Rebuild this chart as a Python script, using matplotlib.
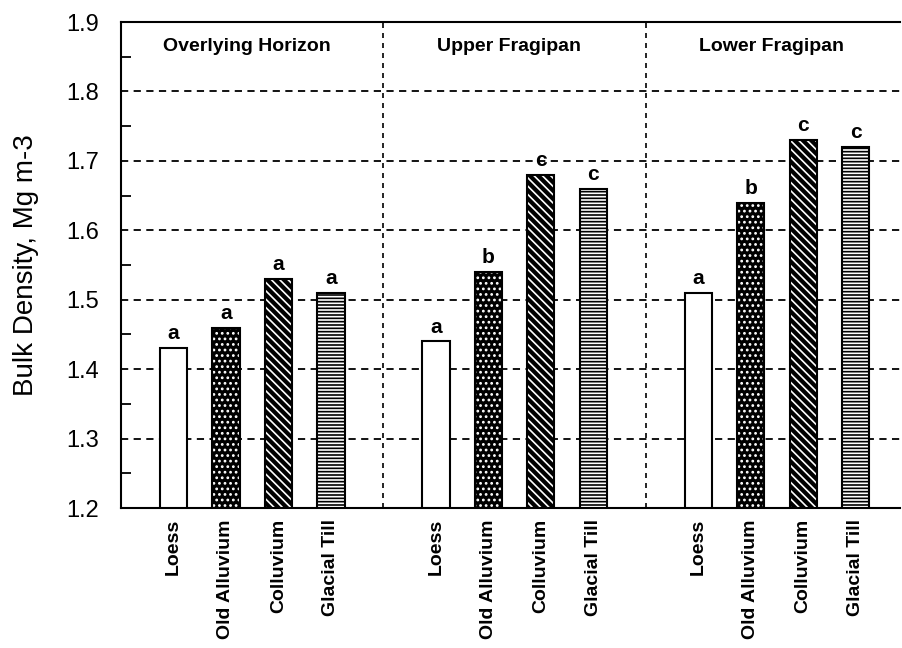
import numpy as np
import matplotlib.pyplot as plt
from matplotlib.ticker import MultipleLocator

plt.rcParams['font.family'] = ['Liberation Sans', 'DejaVu Sans']
plt.rcParams['hatch.linewidth'] = 1.2

horizons = ["Overlying Horizon", "Upper Fragipan", "Lower Fragipan"]
materials = ["Loess", "Old Alluvium", "Colluvium", "Glacial Till"]
density = [
    [1.43, 1.46, 1.53, 1.51],
    [1.44, 1.54, 1.68, 1.66],
    [1.51, 1.64, 1.73, 1.72],
]
letters = [
    ["a", "a", "a", "a"],
    ["a", "b", "c", "c"],
    ["a", "b", "c", "c"],
]

# fill, hatch, hatch colour per material
styles = [
    ("white", None, "black"),
    ("black", "...", "white"),
    ("black", "\\\\\\\\", "white"),
    ("white", "-----", "black"),
]

fig = plt.figure(figsize=(9.03, 6.48), dpi=100)
ax = fig.add_axes([0.134, 0.216, 0.863, 0.750])

base = 1.2
width = 0.52
xpos = []
xlab = []
for g in range(3):
    for m in range(4):
        x = g * 5 + m
        v = density[g][m]
        fc, hatch, hc = styles[m]
        ax.bar(x, v - base, width, bottom=base, color=fc, edgecolor=hc,
               hatch=hatch, linewidth=0, zorder=3)
        ax.bar(x, v - base, width, bottom=base, fill=False, edgecolor="black",
               linewidth=1.5, zorder=4)
        ax.text(x, v + 0.007, letters[g][m], ha="center", va="bottom",
                fontsize=15, fontweight="bold", zorder=5)
        xpos.append(x)
        xlab.append(materials[m])
    ax.text(g * 5 + 1.4, 1.865, horizons[g], ha="center", va="center",
            fontsize=14, fontweight="bold")

for d in [4, 9]:
    ax.axvline(d, color="black", linestyle=(0, (3, 3)), linewidth=1.2, zorder=2)

ax.set_xlim(-1.0, 13.85)
ax.set_ylim(1.2, 1.9)
ax.yaxis.set_major_locator(MultipleLocator(0.1))
ax.yaxis.set_minor_locator(MultipleLocator(0.05))
ax.yaxis.grid(True, which="major", color="black", linestyle=(0, (4, 3)),
              linewidth=1.3)
ax.set_axisbelow(True)

ax.set_xticks(xpos)
ax.set_xticklabels(xlab, rotation=90, fontsize=14, fontweight="bold",
                   va="top", ha="center")
ax.tick_params(axis="x", length=0, pad=8)
ax.tick_params(axis="y", which="both", direction="in", labelsize=17, pad=16)
ax.tick_params(axis="y", which="major", length=0)
ax.tick_params(axis="y", which="minor", length=7, width=1.3)

ax.spines["right"].set_visible(False)
for s in ["left", "top", "bottom"]:
    ax.spines[s].set_linewidth(1.5)

ax.set_ylabel("Bulk Density, Mg m-3", fontsize=20)
ax.yaxis.set_label_coords(-0.105, 0.5)

fig.savefig("out.png", dpi=100)
